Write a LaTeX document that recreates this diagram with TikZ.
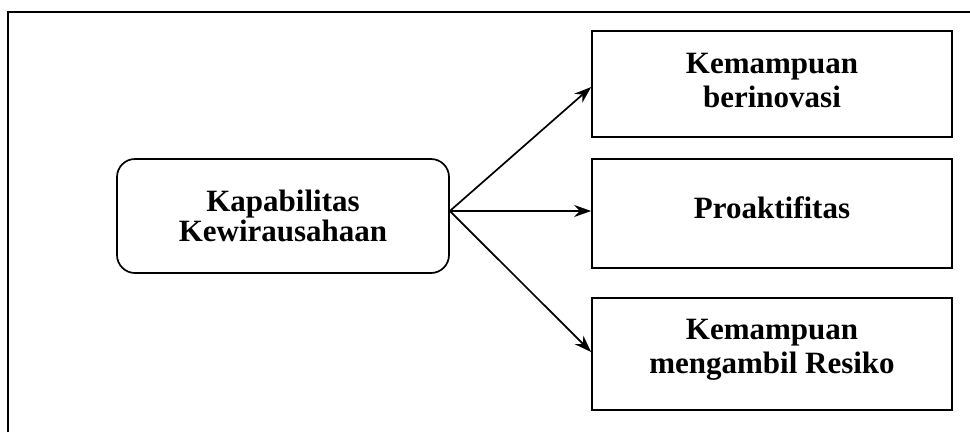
\documentclass[tikz,border=0pt]{standalone}
\usepackage{fontspec}
\setmainfont{Liberation Serif}
\usetikzlibrary{arrows.meta}

\begin{document}
\begin{tikzpicture}[
    x=1pt,
    y=-1pt,
    ->,
    >={Stealth[length=17pt,width=12pt]},
    line width=1.7pt,
    root/.style={draw, rounded corners=18pt, minimum width=332pt, minimum height=114pt, inner sep=0pt, align=center, font=\fontsize{31}{30}\selectfont\bfseries},
    dim/.style={draw, minimum width=360pt, inner sep=0pt, align=center, font=\fontsize{31}{34}\selectfont\bfseries}
  ]
  \useasboundingbox (0,0) rectangle (970,432);

  % bingkai luar
  \draw[-, line width=1.6pt] (8,432) -- (8,12) -- (970,12);

  % simpul utama
  \node[root] (kap) at (283,216) {Kapabilitas\\Kewirausahaan};
  \coordinate (src) at ([yshift=5pt]kap.east);

  % tiga dimensi
  \node[dim, minimum height=106pt, text depth=8pt]  (inov) at (772,84)    {Kemampuan\\berinovasi};
  \node[dim, minimum height=109pt, text depth=12pt] (proa) at (772,213.5) {Proaktifitas};
  \node[dim, minimum height=112pt, text depth=16pt] (resi) at (772,354)   {Kemampuan\\mengambil Resiko};

  % panah
  \draw (src) -- ([yshift=-3pt]inov.west);
  \draw (src) -- (proa.west |- src);
  \draw (src) -- ([yshift=2pt]resi.west);

\end{tikzpicture}
\end{document}
